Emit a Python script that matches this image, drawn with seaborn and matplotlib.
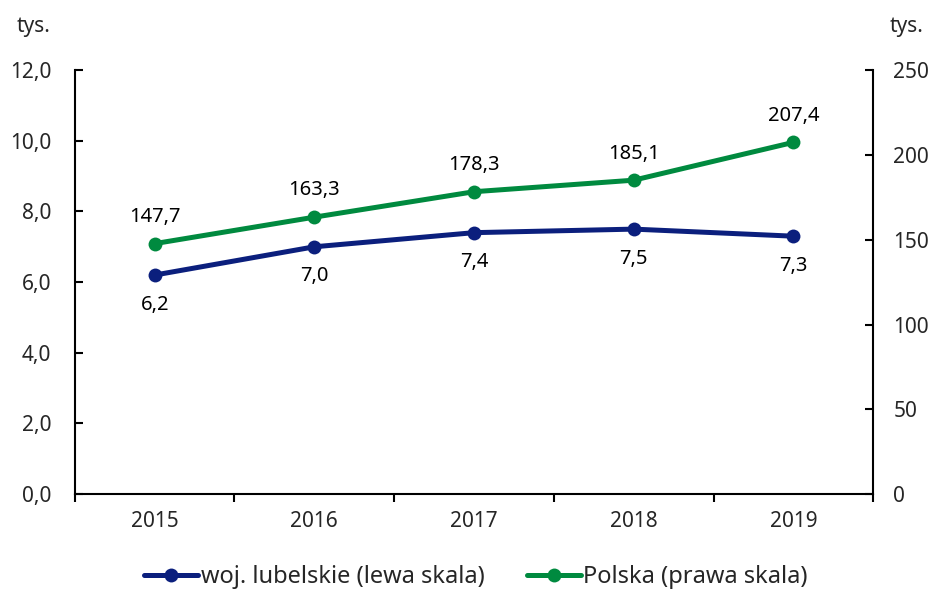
"""Line chart: woj. lubelskie vs Polska, two y scales."""

import matplotlib.pyplot as plt
import pandas as pd
import seaborn as sns
from matplotlib.lines import Line2D
from matplotlib.ticker import FixedLocator, FuncFormatter

years = ["2015", "2016", "2017", "2018", "2019"]
lubelskie = [6.2, 7.0, 7.4, 7.5, 7.3]
polska = [147.7, 163.3, 178.3, 185.1, 207.4]

NAVY = "#0b1f7d"
GREEN = "#008a3f"
FONT = ["Noto Sans", "DejaVu Sans"]


def pl(value: float, decimals: int = 1) -> str:
    return f"{value:.{decimals}f}".replace(".", ",")


def main() -> None:
    sns.set_theme(style="white")
    plt.rcParams["font.family"] = FONT
    plt.rcParams["font.size"] = 14.5

    frame = pd.DataFrame({"year": years, "lubelskie": lubelskie, "polska": polska})

    fig = plt.figure(figsize=(9.35, 5.89), dpi=100)
    ax = fig.add_axes([0.080, 0.161, 0.854, 0.720])
    ax2 = ax.twinx()

    sns.lineplot(data=frame, x="year", y="lubelskie", ax=ax, color=NAVY, linewidth=3.6,
                 marker="o", markersize=10, markeredgewidth=0, sort=False)
    sns.lineplot(data=frame, x="year", y="polska", ax=ax2, color=GREEN, linewidth=3.6,
                 marker="o", markersize=10, markeredgewidth=0, sort=False)

    for i, v in enumerate(lubelskie):
        ax.annotate(pl(v), (i, v), xytext=(0, -14), textcoords="offset points",
                    ha="center", va="top", fontsize=14.5, color="black")
    for i, v in enumerate(polska):
        ax2.annotate(pl(v), (i, v), xytext=(0, 12), textcoords="offset points",
                     ha="center", va="bottom", fontsize=14.5, color="black")

    ax.set_xlim(-0.5, len(years) - 0.5)
    ax.set_ylim(0, 12)
    ax2.set_ylim(0, 250)
    ax.set_yticks([0, 2, 4, 6, 8, 10, 12])
    ax.yaxis.set_major_formatter(FuncFormatter(lambda v, _: pl(v)))
    ax2.set_yticks([0, 50, 100, 150, 200, 250])

    ax.set_xlabel("")
    ax.set_ylabel("")
    ax2.set_ylabel("")

    for a in (ax, ax2):
        for side in a.spines:
            a.spines[side].set_visible(False)
    ax.spines["left"].set_visible(True)
    ax.spines["bottom"].set_visible(True)
    ax2.spines["right"].set_visible(True)
    for s in (ax.spines["left"], ax.spines["bottom"], ax2.spines["right"]):
        s.set_color("black")
        s.set_linewidth(1.5)

    ax.tick_params(axis="y", direction="in", length=6, width=1.5, color="black",
                   labelsize=15, pad=17, left=True)
    ax2.tick_params(axis="y", direction="in", length=6, width=1.5, color="black",
                    labelsize=15, pad=14.5, right=True)
    ax.tick_params(axis="x", which="major", length=0, labelsize=15, pad=12)
    ax.xaxis.set_minor_locator(FixedLocator([i - 0.5 for i in range(len(years) + 1)]))
    ax.tick_params(axis="x", which="minor", direction="out", length=6, width=1.5,
                   color="black", bottom=True)
    ax.grid(False)
    ax2.grid(False)

    fig.text(0.018, 0.955, "tys.", fontsize=15, ha="left", va="center")
    fig.text(0.951, 0.955, "tys.", fontsize=15, ha="left", va="center")

    handles = [
        Line2D([], [], color=NAVY, linewidth=3.6, marker="o", markersize=10, markeredgewidth=0),
        Line2D([], [], color=GREEN, linewidth=3.6, marker="o", markersize=10, markeredgewidth=0),
    ]
    fig.legend(handles, ["woj. lubelskie (lewa skala)", "Polska (prawa skala)"],
               loc="center", bbox_to_anchor=(0.509, 0.02), ncol=2, frameon=False,
               fontsize=17, handlelength=2.3, handletextpad=0.1, columnspacing=1.8)

    fig.savefig("out.png", dpi=100)


if __name__ == "__main__":
    main()
